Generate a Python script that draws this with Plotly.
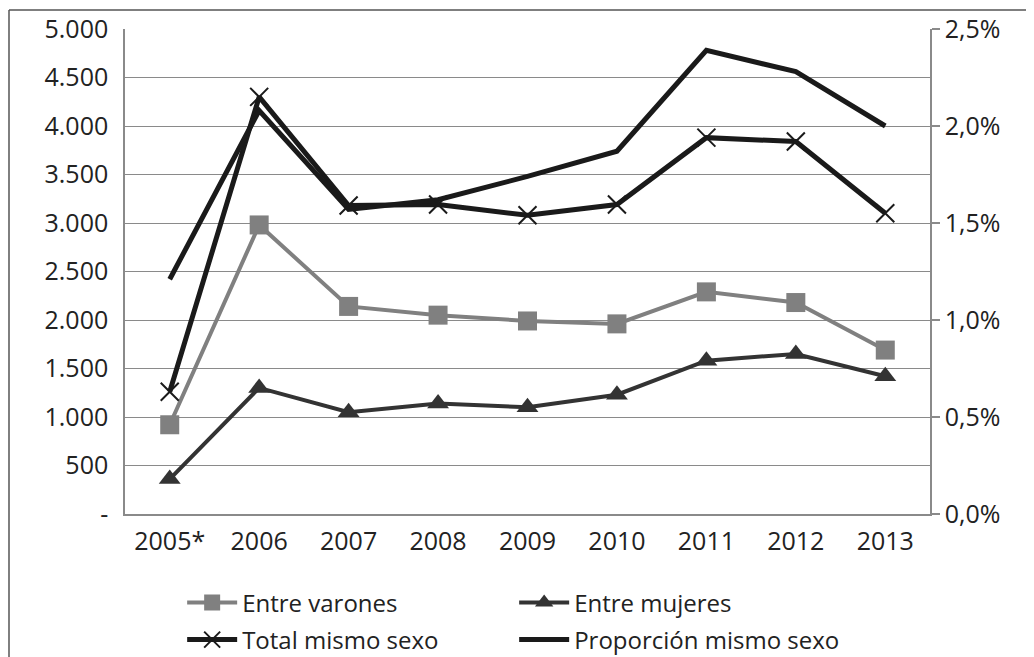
import plotly.graph_objects as go

years = ["2005*", "2006", "2007", "2008", "2009", "2010", "2011", "2012", "2013"]

entre_varones = [920, 2980, 2140, 2050, 1990, 1960, 2290, 2180, 1690]
entre_mujeres = [360, 1300, 1050, 1140, 1100, 1230, 1580, 1650, 1420]
total_mismo_sexo = [1260, 4300, 3180, 3190, 3080, 3190, 3880, 3840, 3100]
proporcion_mismo_sexo = [0.0121, 0.0208, 0.0157, 0.0162, 0.0174, 0.0187, 0.0239, 0.0228, 0.0200]

left_ticks = [0, 500, 1000, 1500, 2000, 2500, 3000, 3500, 4000, 4500, 5000]
left_labels = ["-", "500", "1.000", "1.500", "2.000", "2.500", "3.000", "3.500", "4.000", "4.500", "5.000"]
right_ticks = [0, 0.005, 0.01, 0.015, 0.02, 0.025]
right_labels = ["0,0%", "0,5%", "1,0%", "1,5%", "2,0%", "2,5%"]

FONT = "Open Sans"
GRID = "#8a8a8a"

fig = go.Figure()

fig.add_trace(go.Scatter(
    x=years, y=entre_varones, name="Entre varones",
    mode="lines+markers",
    line=dict(color="#808080", width=4),
    marker=dict(symbol="square", size=19, color="#808080"),
    legend="legend"
))

fig.add_trace(go.Scatter(
    x=years, y=entre_mujeres, name="Entre mujeres",
    mode="lines+markers",
    line=dict(color="#333333", width=4),
    marker=dict(symbol="triangle-up", size=19, color="#333333"),
    legend="legend"
))

fig.add_trace(go.Scatter(
    x=years, y=total_mismo_sexo, name="Total mismo sexo",
    mode="lines+markers",
    line=dict(color="#1a1a1a", width=5),
    marker=dict(symbol="x-thin", size=18, line=dict(color="#1a1a1a", width=2)),
    legend="legend2"
))

fig.add_trace(go.Scatter(
    x=years, y=proporcion_mismo_sexo, name="Proporción mismo sexo",
    mode="lines",
    line=dict(color="#1a1a1a", width=5),
    yaxis="y2",
    legend="legend2"
))

# outer frame (top and left edges only)
fig.add_shape(type="line", xref="paper", yref="paper",
              x0=-0.1441, x1=1.2, y0=1.0392, y1=1.0392,
              line=dict(color="#555555", width=1.5))
fig.add_shape(type="line", xref="paper", yref="paper",
              x0=-0.1441, x1=-0.1441, y0=1.0392, y1=-0.35,
              line=dict(color="#555555", width=1.5))

legend_common = dict(
    orientation="h", xanchor="left", yanchor="middle",
    entrywidth=267, entrywidthmode="pixels", itemwidth=50,
    font=dict(family=FONT, size=24, color="#222222"),
    bgcolor="rgba(0,0,0,0)"
)

# page body has an 8px margin, so the figure is 8px smaller than the window
fig.update_layout(
    width=1026, height=649,
    margin=dict(l=117, r=104, t=21, b=143, autoexpand=False),
    paper_bgcolor="white",
    plot_bgcolor="white",
    font=dict(family=FONT, size=25, color="#222222"),
    showlegend=True,
    legend=dict(x=0.071, y=-0.1835, **legend_common),
    legend2=dict(x=0.071, y=-0.2598, **legend_common),
    xaxis=dict(
        type="category", range=[-0.5, 8.5],
        showline=True, linecolor=GRID, linewidth=1.5,
        showgrid=False, ticks="", ticklabelstandoff=4,
        automargin=False
    ),
    yaxis=dict(
        range=[0, 5000], tickvals=left_ticks, ticktext=left_labels,
        showline=True, linecolor=GRID, linewidth=1.5,
        showgrid=True, gridcolor=GRID, gridwidth=1.2,
        zeroline=False, ticks="", ticklabelstandoff=10,
        automargin=False
    ),
    yaxis2=dict(
        range=[0, 0.025], tickvals=right_ticks, ticktext=right_labels,
        overlaying="y", side="right",
        showline=True, linecolor=GRID, linewidth=1.5,
        showgrid=False, zeroline=False,
        ticks="outside", ticklen=8, tickcolor=GRID, tickwidth=1.5,
        automargin=False
    )
)

fig.write_html("out.html")
